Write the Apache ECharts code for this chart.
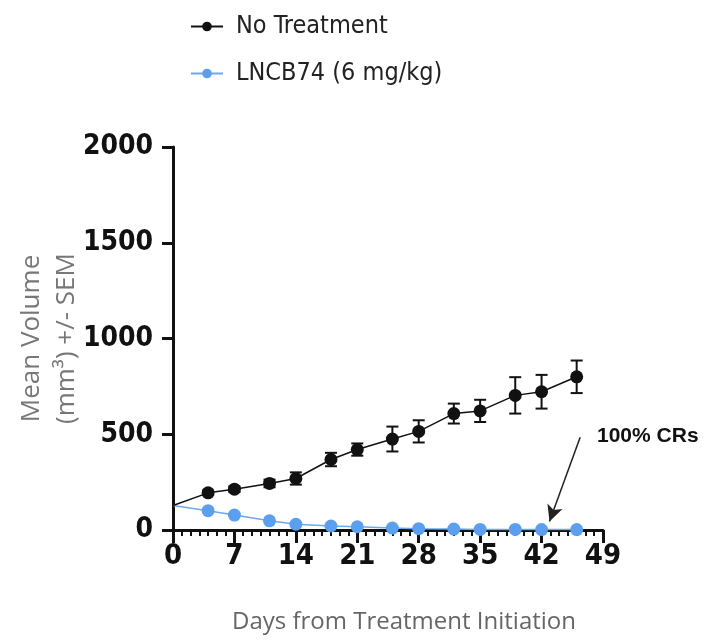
<!DOCTYPE html>
<html>
<head>
<meta charset="utf-8">
<script src="https://cdn.jsdelivr.net/npm/echarts@6/dist/echarts.min.js"></script>
<style>html,body{margin:0;padding:0;background:#fff}#c{width:723px;height:640px}</style>
</head>
<body>
<div id="c"></div>
<script>
const days = [0, 4, 7, 11, 14, 18, 21, 25, 28, 32, 35, 39, 42, 46];
const noTreatment = [128, 194, 213, 243, 269, 368, 420, 475, 515, 608, 622, 703, 722, 800];
const noTreatmentSem = [0, 12, 15, 20, 32, 35, 32, 65, 58, 52, 58, 95, 88, 85];
const lncb74 = [128, 101, 78, 48, 30, 21, 17, 10, 7, 5, 3, 3, 2, 2];
const seriesNames = ['No Treatment', 'LNCB74 (6 mg/kg)'];
const xTicks = [0, 7, 14, 21, 28, 35, 42, 49];
const yTicks = [0, 500, 1000, 1500, 2000];
const annotationText = '100% CRs';

const BLACK = '#111111';
const BLUE = '#5BA0EE';
const NARROW = "'DejaVu Sans Condensed', 'Liberation Sans Narrow', 'Arial Narrow', sans-serif";

function lineData(vals) {
  return days.map((d, i) => i === 0 ? { value: [d, vals[i]], symbolSize: 0 } : [d, vals[i]]);
}
function errData(vals, sem) {
  return days.map((d, i) => [d, vals[i] - sem[i], vals[i] + sem[i]]).filter((r, i) => sem[i] > 0);
}
function errRender(color, width) {
  return function (params, api) {
    const x = api.value(0);
    const lo = api.coord([x, api.value(1)]);
    const hi = api.coord([x, api.value(2)]);
    const cap = 6;
    const style = { stroke: color, lineWidth: width };
    return {
      type: 'group',
      children: [
        { type: 'line', shape: { x1: lo[0], y1: lo[1], x2: hi[0], y2: hi[1] }, style },
        { type: 'line', shape: { x1: lo[0] - cap, y1: lo[1], x2: lo[0] + cap, y2: lo[1] }, style },
        { type: 'line', shape: { x1: hi[0] - cap, y1: hi[1], x2: hi[0] + cap, y2: hi[1] }, style }
      ]
    };
  };
}

const chart = echarts.init(document.getElementById('c'), null, { renderer: 'canvas' });
chart.setOption({
  animation: false,
  backgroundColor: '#fff',
  grid: { left: 173, right: 120, top: 147, bottom: 110, containLabel: false, outerBoundsMode: 'none' },
  legend: {
    orient: 'vertical',
    left: 185,
    top: 9,
    itemWidth: 32,
    itemHeight: 12,
    itemGap: 22,
    data: seriesNames,
    textStyle: { fontFamily: NARROW, fontSize: 25, color: '#222', padding: [0, 0, 0, 8] }
  },
  xAxis: {
    type: 'value',
    min: xTicks[0],
    max: xTicks[xTicks.length - 1],
    interval: 7,
    name: 'Days from Treatment Initiation',
    nameLocation: 'middle',
    nameGap: 80,
    nameMoveOverlap: false,
    nameTextStyle: { fontFamily: 'Open Sans', fontSize: 24, color: '#666', padding: [0, 0, 0, 32] },
    axisLine: { show: true, onZero: false, lineStyle: { color: BLACK, width: 3 } },
    axisTick: { show: true, length: 13, lineStyle: { color: BLACK, width: 3 } },
    minorTick: { show: true, splitNumber: 7, length: 6, lineStyle: { color: BLACK, width: 2 } },
    splitLine: { show: false },
    axisLabel: { margin: 12, fontFamily: NARROW, fontWeight: 'bold', fontSize: 29, color: BLACK, formatter: v => String(v) }
  },
  yAxis: {
    type: 'value',
    min: yTicks[0],
    max: yTicks[yTicks.length - 1],
    interval: 500,
    name: 'Mean Volume\n(mm³) +/- SEM',
    nameLocation: 'middle',
    nameGap: 89,
    nameRotate: 90,
    nameMoveOverlap: false,
    nameTextStyle: { fontFamily: 'Open Sans', fontSize: 26, color: '#777', lineHeight: 35 },
    axisLine: { show: true, lineStyle: { color: BLACK, width: 3 } },
    axisTick: { show: true, length: 11, lineStyle: { color: BLACK, width: 3 } },
    splitLine: { show: false },
    axisLabel: { margin: 20, fontFamily: NARROW, fontWeight: 'bold', fontSize: 28, color: BLACK, formatter: v => String(v) }
  },
  series: [
    {
      name: seriesNames[1],
      type: 'line',
      data: lineData(lncb74),
      symbol: 'circle',
      symbolSize: 13,
      z: 3,
      itemStyle: { color: BLUE },
      lineStyle: { color: '#6EA8EA', width: 1.5 }
    },
    {
      name: seriesNames[0],
      type: 'line',
      data: lineData(noTreatment),
      symbol: 'circle',
      symbolSize: 13,
      z: 4,
      itemStyle: { color: BLACK },
      lineStyle: { color: BLACK, width: 1.5 },
      markLine: {
        silent: true,
        symbol: ['none', 'arrow'],
        symbolSize: [12, 16],
        label: { show: false },
        lineStyle: { color: '#222', width: 1.5, type: 'solid' },
        data: [[{ coord: [46.4, 484] }, { coord: [42.9, 45] }]]
      }
    },
    {
      type: 'custom',
      name: 'errNo',
      renderItem: errRender(BLACK, 2),
      data: errData(noTreatment, noTreatmentSem),
      encode: { x: 0, y: [1, 2] },
      z: 5
    }
  ],
  graphic: [
    {
      type: 'text',
      left: 597,
      top: 426,
      style: { text: annotationText, fontFamily: 'Liberation Sans', fontWeight: 'bold', fontSize: 21, fill: '#111' }
    }
  ]
});
</script>
</body>
</html>
